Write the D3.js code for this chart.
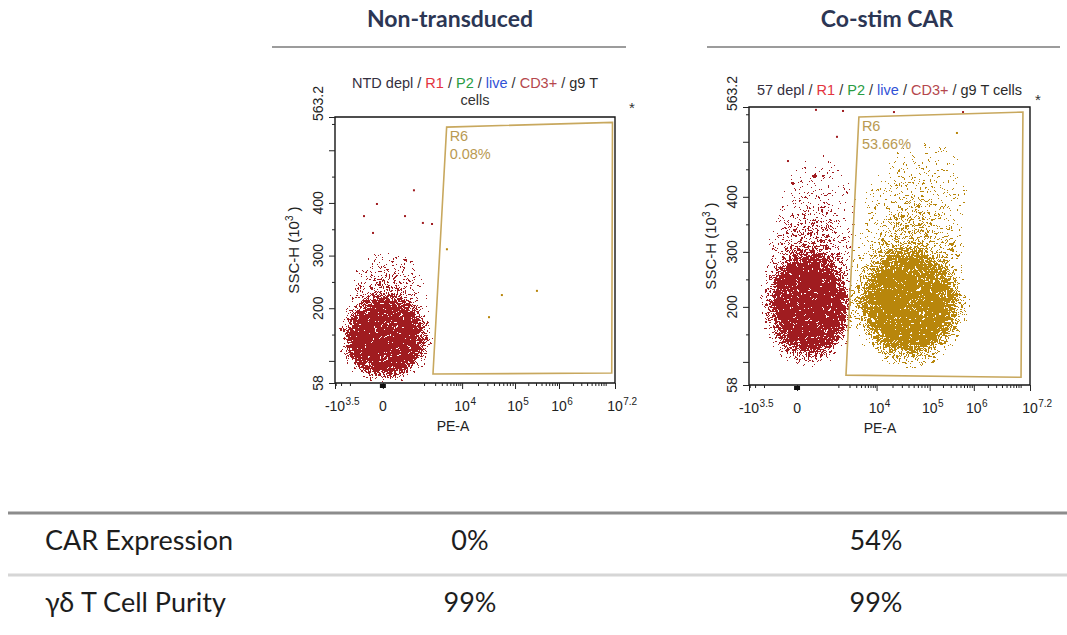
<!doctype html>
<html>
<head>
<meta charset="utf-8">
<title>CAR expression on gd T cells</title>
<script src="https://cdn.jsdelivr.net/npm/d3@7"></script>
<style>
  body { margin: 0; background: #fff; }
  svg { display: block; }
</style>
</head>
<body>
<script>

// ---- values ----
var conditions = ["Non-transduced", "Co-stim CAR"];
var gatePath = [
  ["NTD depl", "R1", "P2", "live", "CD3+", "g9 T cells"],
  ["57 depl", "R1", "P2", "live", "CD3+", "g9 T cells"]
];
var gateName = "R6";
var gatePercent = ["0.08%", "53.66%"];

var rowLabels = ["CAR Expression", "γδ T Cell Purity"];
var carExpression = ["0%", "54%"];
var cellPurity = ["99%", "99%"];

// PE-A is on a logicle-like display, SSC-H linear (x10^3)
var xTickValues = [-3162, 0, 1e4, 1e5, 1e6, 1.585e7];
var xTickBase = ["-10", "0", "10", "10", "10", "10"];
var xTickPow = ["3.5", "", "4", "5", "6", "7.2"];
var yDomain = [58, 563.2];
var yTickLabels = [58, 200, 300, 400, 563.2];

// R6 gate corners [PE-A, SSC-H]
var gateNTD = [[1750, 75], [4000, 544], [1.4e7, 553], [1.35e7, 77]];
var gateCAR = [[1610, 76], [3520, 545], [1.12e7, 554], [1.02e7, 72]];

// event clouds as density ellipses [PE-A lo, PE-A hi, SSC-H lo, SSC-H hi, peak density]
var cloudNTD = [[-2900, 1900, 52, 236, 2.2], [-3000, 2300, 50, 290, 0.3], [-1360, 1460, 149, 320, 0.35]];
var cloudCARneg = [[-1400, 3500, 86, 322, 1.8], [-2300, 3600, 78, 400, 0.35], [-610, 3740, 176, 467, 0.25], [-1370, 11600, 222, 567, 0.07]];
var cloudCARpos = [[1550, 9e5, 86, 322, 1.7], [1500, 1e6, 78, 400, 0.35], [3130, 7.04e5, 158, 485, 0.27], [1530, 4.6e6, 249, 576, 0.08]];

// single events that stand apart [PE-A, SSC-H]
var eventsNTD = [[511, 424], [-54, 398], [263, 375], [-295, 375], [928, 362], [1650, 360], [-105, 343],
                 [4070, 312], [56500, 225], [3.15e5, 233], [32300, 183]];
var eventsCAR = [[200, 558], [1340, 556], [-93, 465], [915, 509], [21300, 554], [5.7e5, 554], [4.15e5, 516]];

// ---- drawing ----
var W = 1067, H = 635;
var red = "#a01c20", gold = "#b8860b";
var pathColors = ["#35303f", "#e3343e", "#2a9c43", "#3152d6", "#b5474c", "#2b2b2b"];

var svg = d3.select("body").append("svg")
    .attr("width", W).attr("height", H)
    .style("font-family", "'Liberation Sans', Arial, sans-serif");
var defs = svg.append("defs");

// speckle filter: turns a density (alpha) into scattered dots
function speckle(id, color) {
  var f = defs.append("filter").attr("id", id)
      .attr("filterUnits", "userSpaceOnUse")
      .attr("x", 0).attr("y", 0).attr("width", W).attr("height", H)
      .attr("color-interpolation-filters", "sRGB");
  f.append("feTurbulence").attr("type", "fractalNoise").attr("baseFrequency", 0.6)
      .attr("numOctaves", 2).attr("seed", 4).attr("result", "grain");
  f.append("feTurbulence").attr("type", "fractalNoise").attr("baseFrequency", 0.21)
      .attr("numOctaves", 1).attr("seed", 11).attr("result", "warp");
  f.append("feDisplacementMap").attr("in", "grain").attr("in2", "warp").attr("scale", 9)
      .attr("xChannelSelector", "R").attr("yChannelSelector", "G").attr("result", "noise");
  f.append("feColorMatrix").attr("in", "noise").attr("type", "matrix")
      .attr("values", "0 0 0 0 0  0 0 0 0 0  0 0 0 0 0  2.4 0 0 0 -0.7").attr("result", "n");
  f.append("feComposite").attr("in", "SourceAlpha").attr("in2", "n").attr("operator", "arithmetic")
      .attr("k1", 0).attr("k2", 1).attr("k3", -1).attr("k4", 0.45).attr("result", "d");
  f.append("feComponentTransfer").attr("in", "d").attr("result", "dots")
      .append("feFuncA").attr("type", "discrete").attr("tableValues", "0 1");
  f.append("feComponentTransfer").attr("in", "SourceAlpha").attr("result", "inside")
      .append("feFuncA").attr("type", "linear").attr("slope", 60).attr("intercept", 0);
  f.append("feComposite").attr("in", "dots").attr("in2", "inside").attr("operator", "in").attr("result", "m");
  f.append("feFlood").attr("flood-color", color).attr("result", "c");
  f.append("feComposite").attr("in", "c").attr("in2", "m").attr("operator", "in");
}
speckle("speckRed", red);
speckle("speckGold", gold);

// radial density profile, scaled by the peak of each cloud
var profileStops = d3.range(0, 1.0001, 0.05);
function densityGradient(id, peak) {
  var gr = defs.append("radialGradient").attr("id", id);
  profileStops.forEach(function (r) {
    gr.append("stop").attr("offset", r)
      .attr("stop-color", "#000")
      .attr("stop-opacity", Math.min(1, peak * Math.pow(Math.max(0, 1 - r * r), 1.4)));
  });
}

var xBreaks = [0, 0.171, 0.454, 0.643, 0.80, 1];
var xMinor = [-3000, -2000, -1000];
for (var k = 3; k <= 6; k++) {
  for (var m = 1; m <= 9; m++) {
    if (k === 3 || m > 1) xMinor.push(m * Math.pow(10, k));
  }
}
xMinor.push(1e7);

var panels = [
  { x0: 335, x1: 615, y0: 117, y1: 383, gate: gateNTD, clouds: cloudNTD, events: eventsNTD,
    wrap: true, starX: 632, starY: 113, xLabelX: 453, yLabelX: 299 },
  { x0: 749, x1: 1030, y0: 107, y1: 385, gate: gateCAR, clouds: cloudCARneg.concat(cloudCARpos), events: eventsCAR,
    wrap: false, starX: 1038, starY: 105, xLabelX: 880, yLabelX: 716 }
];

panels.forEach(function (p, i) {
  var x = d3.scaleSymlog().constant(100)
      .domain(xTickValues)
      .range(xBreaks.map(function (f) { return p.x0 + f * (p.x1 - p.x0); }));
  var y = d3.scaleLinear().domain(yDomain).range([p.y1, p.y0]);

  var g = svg.append("g");

  var gatePx = p.gate.map(function (d) { return [x(d[0]), y(d[1])]; });
  var gateD = "M" + gatePx.join("L") + "Z";
  var frameD = "M" + p.x0 + "," + p.y0 + "H" + p.x1 + "V" + p.y1 + "H" + p.x0 + "Z";

  defs.append("clipPath").attr("id", "out" + i)
    .append("path").attr("d", frameD + gateD).attr("clip-rule", "evenodd");
  defs.append("clipPath").attr("id", "in" + i)
    .append("path").attr("d", gateD);

  p.clouds.forEach(function (c, j) { densityGradient("cg" + i + "_" + j, c[4]); });

  function drawClouds(sel) {
    sel.selectAll("ellipse").data(p.clouds).join("ellipse")
      .attr("cx", function (c) { return (x(c[0]) + x(c[1])) / 2; })
      .attr("cy", function (c) { return (y(c[2]) + y(c[3])) / 2; })
      .attr("rx", function (c) { return (x(c[1]) - x(c[0])) / 2; })
      .attr("ry", function (c) { return (y(c[2]) - y(c[3])) / 2; })
      .attr("fill", function (c, j) { return "url(#cg" + i + "_" + j + ")"; });
  }

  // events outside R6 are red, inside are gold
  g.append("g").attr("clip-path", "url(#out" + i + ")")
    .append("g").attr("filter", "url(#speckRed)").call(drawClouds);
  g.append("g").attr("clip-path", "url(#in" + i + ")")
    .append("g").attr("filter", "url(#speckGold)").call(drawClouds);

  g.selectAll("rect.ev").data(p.events).join("rect").attr("class", "ev")
    .attr("x", function (d) { return x(d[0]) - 1; })
    .attr("y", function (d) { return y(d[1]) - 1; })
    .attr("width", 2).attr("height", 2)
    .attr("fill", function (d) {
      return d3.polygonContains(gatePx, [x(d[0]), y(d[1])]) ? gold : red;
    });

  // gate
  g.append("path").attr("d", gateD)
    .attr("fill", "none").attr("stroke", "#c8a85e").attr("stroke-width", 1.6);
  g.append("text").attr("x", gatePx[1][0] + 3).attr("y", gatePx[1][1] + 14)
    .attr("font-size", 14.5).attr("fill", "#b99a52").text(gateName);
  g.append("text").attr("x", gatePx[1][0] + 3).attr("y", gatePx[1][1] + 32)
    .attr("font-size", 14.5).attr("fill", "#b99a52").text(gatePercent[i]);

  // frame
  g.append("path").attr("d", frameD)
    .attr("fill", "none").attr("stroke", "#151515").attr("stroke-width", 1.4);

  // axes
  function noDomain(a) { a.select(".domain").remove(); a.selectAll("line").attr("stroke", "#222"); }
  g.append("g").attr("transform", "translate(0," + p.y1 + ")")
    .call(d3.axisBottom(x).tickValues(xTickValues).tickSize(6).tickFormat(""))
    .call(noDomain);
  g.append("g").attr("transform", "translate(0," + p.y1 + ")")
    .call(d3.axisBottom(x).tickValues(xMinor).tickSize(3).tickFormat(""))
    .call(noDomain);
  g.append("rect").attr("x", x(0) - 3).attr("y", p.y1 + 1).attr("width", 6).attr("height", 4).attr("fill", "#111");

  g.append("g").attr("transform", "translate(" + p.x0 + ",0)")
    .call(d3.axisLeft(y).tickValues([58, 100, 200, 300, 400, 500, 563.2]).tickSize(6).tickFormat(""))
    .call(noDomain);
  g.append("g").attr("transform", "translate(" + p.x0 + ",0)")
    .call(d3.axisLeft(y).tickValues([150, 250, 350, 450, 550]).tickSize(3).tickFormat(""))
    .call(noDomain);

  // x tick labels: base centred on tick, exponent as superscript
  xTickValues.forEach(function (v, k) {
    var base = g.append("text").attr("x", x(v)).attr("y", p.y1 + 28)
      .attr("text-anchor", "middle").attr("font-size", 14).attr("fill", "#222")
      .text(xTickBase[k]);
    if (xTickPow[k]) {
      var bw = base.node().getComputedTextLength();
      g.append("text").attr("x", x(v) + bw / 2 + 0.5).attr("y", p.y1 + 22)
        .attr("font-size", 10).attr("fill", "#222").text(xTickPow[k]);
    }
  });
  g.append("text").attr("x", p.xLabelX).attr("y", p.y1 + 48)
    .attr("text-anchor", "middle").attr("font-size", 14).attr("fill", "#222").text("PE-A");

  // y tick labels, rotated (the top one reads upward from the frame corner)
  yTickLabels.forEach(function (v, k) {
    var last = k === yTickLabels.length - 1;
    g.append("text")
      .attr("transform", "translate(" + (p.x0 - 12) + "," + (last ? y(v) + 4 : y(v)) + ") rotate(-90)")
      .attr("text-anchor", last ? "start" : "middle")
      .attr("font-size", 14).attr("fill", "#222").text(v);
  });
  var yl = g.append("text")
    .attr("transform", "translate(" + p.yLabelX + "," + ((p.y0 + p.y1) / 2) + ") rotate(-90)")
    .attr("text-anchor", "middle").attr("font-size", 15).attr("fill", "#222");
  yl.append("tspan").text("SSC-H (10");
  yl.append("tspan").attr("font-size", 10).attr("dy", -6).text("3");
  yl.append("tspan").attr("dy", 6).text(" )");

  // plot title (gating path)
  var names = gatePath[i].slice();
  var tail = null;
  if (p.wrap) {
    names[names.length - 1] = "g9 T";
    tail = "cells";
  }
  var t = g.append("text").attr("x", (p.x0 + p.x1) / 2)
    .attr("y", p.wrap ? p.y0 - 29 : p.y0 - 12)
    .attr("text-anchor", "middle").attr("font-size", 14.5);
  names.forEach(function (nm, k) {
    if (k > 0) t.append("tspan").attr("fill", "#333").text(" / ");
    t.append("tspan").attr("fill", pathColors[k]).text(nm);
  });
  if (tail) {
    g.append("text").attr("x", (p.x0 + p.x1) / 2).attr("y", p.y0 - 12)
      .attr("text-anchor", "middle").attr("font-size", 14.5).attr("fill", "#333").text(tail);
  }
  g.append("text").attr("x", p.starX).attr("y", p.starY)
    .attr("text-anchor", "middle").attr("font-size", 15).attr("fill", "#333").text("*");
});

// ---- column headers ----
var headerX = [450, 887];
var headerLines = [[272, 626], [707, 1060]];
conditions.forEach(function (c, i) {
  svg.append("text").attr("x", headerX[i]).attr("y", 27)
    .attr("text-anchor", "middle").attr("font-family", "Lato, 'Open Sans', sans-serif")
    .attr("font-weight", 700).attr("font-size", 23).attr("fill", "#2c3654").text(c);
  svg.append("line").attr("x1", headerLines[i][0]).attr("x2", headerLines[i][1])
    .attr("y1", 47).attr("y2", 47).attr("stroke", "#9c9c9c").attr("stroke-width", 2);
});

// ---- summary table ----
var colX = [470, 876];
var rowY = [550, 612];
var rows = [carExpression, cellPurity];
svg.append("line").attr("x1", 8).attr("x2", W).attr("y1", 513).attr("y2", 513)
  .attr("stroke", "#8c8c8c").attr("stroke-width", 3);
svg.append("line").attr("x1", 8).attr("x2", W).attr("y1", 575).attr("y2", 575)
  .attr("stroke", "#d6d6d6").attr("stroke-width", 3);
rowLabels.forEach(function (lab, r) {
  svg.append("text").attr("x", 45).attr("y", rowY[r])
    .attr("font-family", "Lato, 'Open Sans', sans-serif").attr("font-size", 27)
    .attr("fill", "#1d1d1d").text(lab);
  rows[r].forEach(function (v, c) {
    svg.append("text").attr("x", colX[c]).attr("y", rowY[r]).attr("text-anchor", "middle")
      .attr("font-family", "Lato, 'Open Sans', sans-serif").attr("font-size", 27)
      .attr("fill", "#1d1d1d").text(v);
  });
});

</script>
</body>
</html>
